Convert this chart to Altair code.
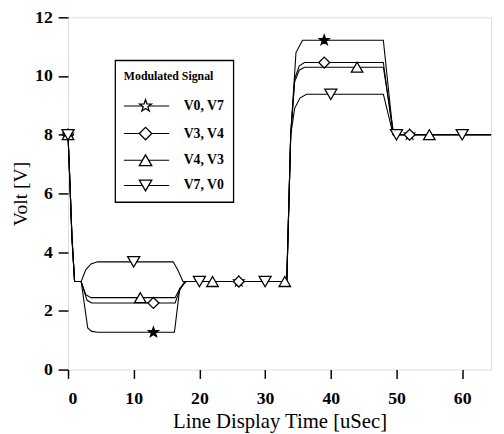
import altair as alt
import pandas as pd

SERIF = "Liberation Serif"
STAR = ("M0,-1L0.235,-0.324L0.951,-0.309L0.380,0.124L0.588,0.809L0,0.4"
        "L-0.588,0.809L-0.380,0.124L-0.951,-0.309L-0.235,-0.324Z")

series = ["V0, V7", "V3, V4", "V4, V3", "V7, V0"]
shapes = [STAR, "diamond", "triangle-up", "triangle-down"]
plot_fills = ["black", "white", "white", "white"]
plot_sizes = [110, 150, 150, 150]

# line traces (x in uSec, y in Volt)
lx_v0v7 = [0, 0.3, 0.6, 1.0, 2.0, 3.0, 3.6, 4.5, 16.2, 17.0, 18.0, 33.3, 33.9, 34.7, 35.7, 48.0, 49.5, 64.4]
ly_v0v7 = [8, 6.3, 4.5, 3.0, 3.0, 1.42, 1.3, 1.27, 1.27, 2.75, 3.0, 3.0, 8.0, 10.8, 11.22, 11.22, 8.0, 8.0]
lx_v3v4 = [0, 0.3, 0.6, 1.0, 2.0, 2.9, 3.6, 16.3, 17.0, 17.8, 33.3, 33.9, 34.5, 35.2, 36.0, 48.0, 49.5, 64.4]
ly_v3v4 = [8, 6.3, 4.5, 3.0, 3.0, 2.36, 2.27, 2.27, 2.7, 3.0, 3.0, 8.0, 9.9, 10.35, 10.46, 10.46, 8.0, 8.0]
lx_v4v3 = [0, 0.3, 0.6, 1.0, 2.0, 2.7, 3.5, 16.3, 17.0, 17.8, 33.3, 33.9, 34.5, 35.2, 36.0, 48.0, 49.6, 64.4]
ly_v4v3 = [8, 6.3, 4.5, 3.0, 3.0, 2.55, 2.45, 2.45, 2.75, 3.0, 3.0, 8.0, 9.8, 10.2, 10.3, 10.3, 8.0, 8.0]
lx_v7v0 = [0, 0.3, 0.6, 1.0, 2.0, 2.7, 3.5, 4.5, 16.0, 16.7, 17.5, 33.3, 33.9, 34.5, 35.3, 36.3, 48.0, 49.5, 64.4]
ly_v7v0 = [8, 6.3, 4.5, 3.0, 3.0, 3.4, 3.6, 3.67, 3.67, 3.4, 3.0, 3.0, 8.0, 8.9, 9.25, 9.38, 9.38, 8.0, 8.0]

# marker positions
mx_v0v7 = [0, 13, 26, 39, 52]
my_v0v7 = [8, 1.27, 3, 11.22, 8]
mx_v3v4 = [0, 13, 26, 39, 52]
my_v3v4 = [8, 2.27, 3, 10.46, 8]
mx_v4v3 = [0, 11, 22, 33, 44, 55]
my_v4v3 = [8, 2.45, 3, 3, 10.3, 8]
mx_v7v0 = [0, 10, 20, 30, 40, 50, 60]
my_v7v0 = [8, 3.67, 3, 3, 9.38, 8, 8]

# legend layout (in data units)
leg_row_y = [8.98, 8.04, 7.13, 6.27]
leg_box = dict(x=7.2, x2=25.2, y=10.53, y2=5.70)
leg_line = dict(x=8.5, x2=15.4)
leg_mark_x = 11.8
leg_label_x = 17.6
leg_title = dict(x=8.5, y=10.0, text="Modulated Signal")

x_ticks = [0, 10, 20, 30, 40, 50, 60]
y_ticks = [0, 2, 4, 6, 8, 10, 12]

lines = []
for s, xs, ys in zip(series, [lx_v0v7, lx_v3v4, lx_v4v3, lx_v7v0],
                     [ly_v0v7, ly_v3v4, ly_v4v3, ly_v7v0]):
    for i, (a, b) in enumerate(zip(xs, ys)):
        lines.append({"series": s, "t": a, "v": b, "o": i})
lines = pd.DataFrame(lines)

marks = []
for s, xs, ys in zip(series, [mx_v0v7, mx_v3v4, mx_v4v3, mx_v7v0],
                     [my_v0v7, my_v3v4, my_v4v3, my_v7v0]):
    for a, b in zip(xs, ys):
        marks.append({"series": s, "t": a, "v": b})
marks = pd.DataFrame(marks)

leg = pd.DataFrame({"series": series, "v": leg_row_y,
                    "x1": leg_line["x"], "x2": leg_line["x2"],
                    "mx": leg_mark_x, "lx": leg_label_x})

xscale = alt.Scale(domain=[0, 64.4], nice=False, zero=False)
yscale = alt.Scale(domain=[0, 12], nice=False)
shape_scale = alt.Scale(domain=series, range=shapes)

X = alt.X("t:Q", scale=xscale,
          axis=alt.Axis(values=x_ticks, title="Line Display Time [uSec]", grid=False,
                        domain=False, tickSize=9, tickWidth=1.5, tickColor="black",
                        labelFont=SERIF, labelFontSize=18, labelFontWeight="bold",
                        labelColor="black", labelPadding=12,
                        titleFont=SERIF, titleFontSize=21, titleFontWeight="normal",
                        titleColor="black", titlePadding=3))
Y = alt.Y("v:Q", scale=yscale,
          axis=alt.Axis(values=y_ticks, title="Volt [V]", grid=False,
                        domain=False, tickSize=10, tickWidth=1.5, tickColor="black",
                        labelFont=SERIF, labelFontSize=18, labelFontWeight="bold",
                        labelColor="black", labelPadding=6,
                        titleFont=SERIF, titleFontSize=20, titleFontWeight="normal",
                        titleColor="black", titlePadding=4))

line_layer = alt.Chart(lines).mark_line(color="black", strokeWidth=1.1).encode(
    x=X, y=Y, detail="series:N", order="o:Q")

point_layer = alt.Chart(marks).mark_point(filled=False, fillOpacity=1,
                                          stroke="black", strokeWidth=1.3,
                                          opacity=1).encode(
    x="t:Q", y="v:Q",
    shape=alt.Shape("series:N", scale=shape_scale, legend=None),
    fill=alt.Fill("series:N", scale=alt.Scale(domain=series, range=plot_fills), legend=None),
    size=alt.Size("series:N", scale=alt.Scale(domain=series, range=plot_sizes), legend=None))

box = alt.Chart(pd.DataFrame([leg_box])).mark_rect(fill="white", stroke="black",
                                                  strokeWidth=1.3).encode(
    x="x:Q", x2="x2:Q", y="y:Q", y2="y2:Q")

title = alt.Chart(pd.DataFrame([leg_title])).mark_text(
    align="left", baseline="middle", font=SERIF, fontSize=12, fontWeight="bold",
    color="black").encode(x="x:Q", y="y:Q", text="text:N")

leg_lines = alt.Chart(leg).mark_rule(color="black", strokeWidth=1.1).encode(
    x="x1:Q", x2="x2:Q", y="v:Q")

leg_points = alt.Chart(leg).mark_point(filled=False, fill="white", fillOpacity=1,
                                       stroke="black", strokeWidth=1.3, size=160,
                                       opacity=1).encode(
    x="mx:Q", y="v:Q", shape=alt.Shape("series:N", scale=shape_scale, legend=None))

leg_labels = alt.Chart(leg).mark_text(
    align="left", baseline="middle", font=SERIF, fontSize=14, fontWeight="bold",
    color="black").encode(x="lx:Q", y="v:Q", text="series:N")

chart = alt.layer(line_layer, point_layer, box, title, leg_lines, leg_points,
                  leg_labels).resolve_scale(fill="independent", size="independent").properties(
    width=430, height=358,
    autosize=alt.AutoSizeParams(type="none"),
    padding={"left": 61, "top": 6, "right": 5, "bottom": 62},
).configure_view(stroke="black", strokeWidth=2).configure(background="white")

chart.save("out.html", embed_options={"renderer": "svg", "actions": False})
